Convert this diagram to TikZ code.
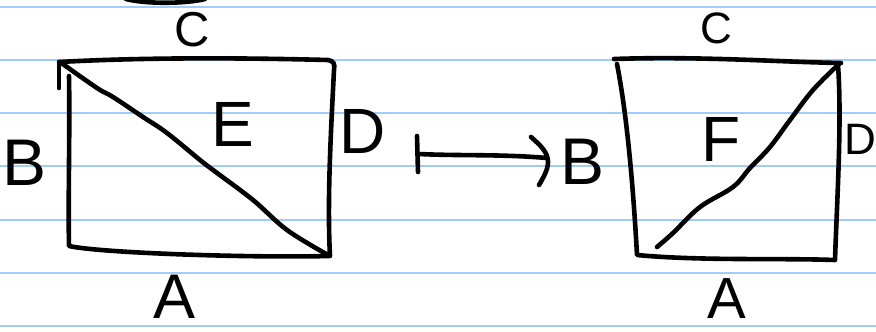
\documentclass[tikz,border=0pt]{standalone}
\usepackage{fontspec}
\setmainfont{Liberation Sans}
\definecolor{ruled}{RGB}{160,204,250}
\tikzset{
  ink/.style={line width=4.6pt, line cap=round, line join=round, black},
  rule/.style={line width=2pt, ruled},
  lbl/.style={inner sep=0pt, anchor=center, text=black},
}
\newcommand{\fs}[1]{\fontsize{#1}{#1}\selectfont}
\begin{document}
\begin{tikzpicture}[x=1pt,y=-1pt]
\useasboundingbox (0,0) rectangle (876,332);
\clip (0,0) rectangle (876,332);
\fill[white] (0,0) rectangle (876,332);
% ruled lines
\foreach \yy in {7,60,113,166,220,273,326} \draw[rule] (0,\yy) -- (876,\yy);
% top arc (cut off)
\draw[ink] (126,-1) .. controls (145,4) and (185,4) .. (205,-1);
% left rectangle
\draw[ink] (59,62) .. controls (150,57) and (250,58) .. (328,60) .. controls (334,61) and (335,64) .. (334,70)
  .. controls (331,130) and (327,200) .. (330,256);
\draw[ink] (69,76) .. controls (70,130) and (68,200) .. (69,246) .. controls (100,253) and (250,258) .. (329,256);
\draw[ink] (59,63) -- (59,88);
\draw[ink] plot[smooth, tension=0.6] coordinates {(60,62) (97,88) (113,97) (143,117) (167,133) (200,160) (213,170) (253,200) (287,230) (328,255)};
% mapsto arrow
\coordinate (arrS) at (419,154);
\coordinate (arrE) at (547,158);
\draw[ink] (417,136) -- (418,172);
\draw[ink] (arrS) .. controls (460,156) and (500,154) .. (arrE);
\draw[ink] (531,137) .. controls (540,145) and (548,152) .. (548,162) .. controls (548,170) and (543,178) .. (539,185);
% right rectangle
\draw[ink] (614,59) .. controls (700,56) and (780,62) .. (841,63);
\draw[ink] (617,64) .. controls (628,120) and (634,200) .. (637,255) .. controls (700,261) and (780,258) .. (835,260)
  .. controls (837,200) and (842,120) .. (838,65);
\draw[ink] plot[smooth, tension=0.6] coordinates {(839,64) (813,90) (790,120) (770,147) (750,168) (733,187) (700,207) (673,233) (657,247)};
% labels
\node[lbl] (cL) at (192,30) {\fs{49}C};
\node[lbl] (eL) at (233,124) {\fs{64}E};
\node[lbl] (dL) at (363,131) {\fs{64}D};
\node[lbl] (bL) at (25,163) {\fs{66}B};
\node[lbl] (aL) at (175,297) {\fs{63}A};
\node[lbl] (bR) at (583,162) {\fs{66}B};
\node[lbl] (cR) at (716,28) {\fs{44}C};
\node[lbl] (fR) at (721,139) {\fs{64}F};
\node[lbl] (dR) at (860,139) {\fs{44}D};
\node[lbl] (aR) at (727,299) {\fs{58}A};
\end{tikzpicture}
\end{document}
